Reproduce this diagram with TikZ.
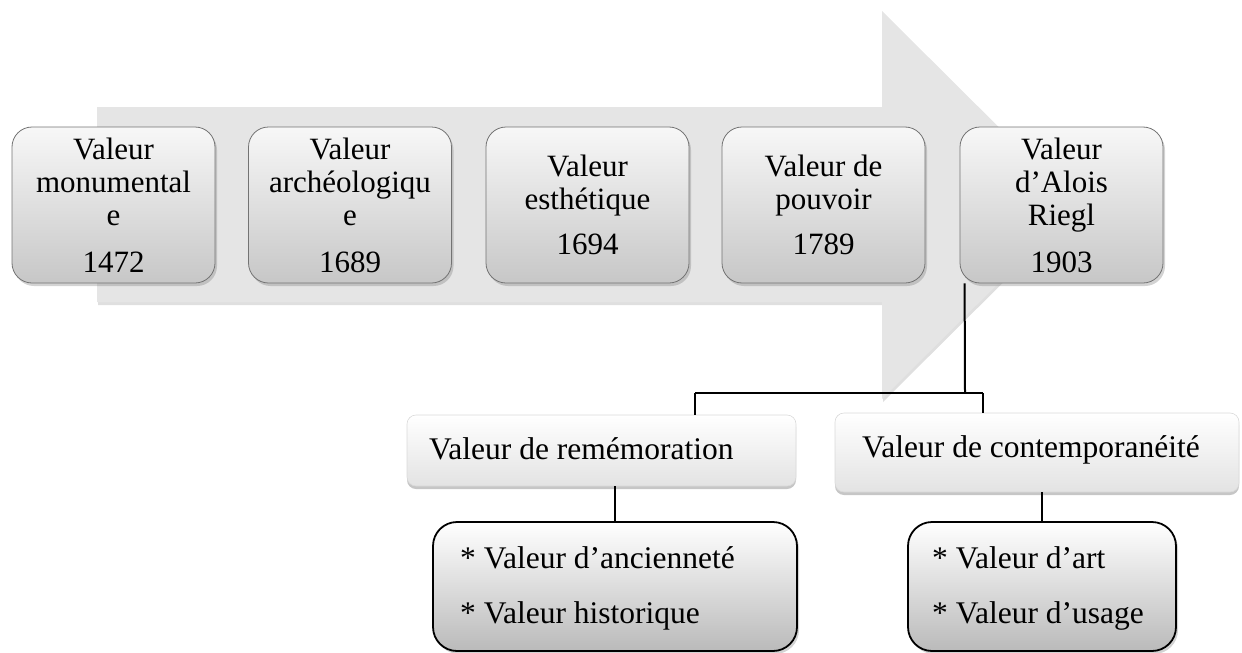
\documentclass[tikz,border=0pt]{standalone}
\usepackage{fontspec}
\setmainfont{Liberation Serif}
\usetikzlibrary{shadows}
\begin{document}
\begin{tikzpicture}[x=1pt,y=-1pt,
  arrowshape/.style={fill=black!10, draw=none, drop shadow={shadow xshift=1pt, shadow yshift=-3pt, opacity=0.25}},
  topbox/.style={draw=black!55, line width=0.8pt, rounded corners=20pt, top color=black!3, bottom color=black!22,
    minimum width=203pt, minimum height=156pt, align=center, inner sep=0pt,
    font=\fontsize{31}{33}\selectfont,
    drop shadow={shadow xshift=2pt, shadow yshift=-3pt, opacity=0.35}},
  midbox/.style={draw=black!15, line width=0.6pt, rounded corners=9pt, top color=white, bottom color=black!11,
    inner sep=0pt, drop shadow={shadow xshift=0pt, shadow yshift=-3pt, opacity=0.45}},
  lowbox/.style={draw=black, line width=1.8pt, rounded corners=24pt, top color=white, bottom color=black!27,
    inner sep=0pt, drop shadow={shadow xshift=2pt, shadow yshift=-3pt, opacity=0.35}},
  txt/.style={font=\fontsize{31.5}{33}\selectfont, inner sep=0pt, anchor=base west},
  conn/.style={draw=black, line width=2pt},
  conn2/.style={draw=black, line width=1.5pt}
]
\useasboundingbox (0,0) rectangle (1242,653);

% big arrow
\path[arrowshape] (97,107) -- (882,107) -- (882,11) -- (1077,205) -- (882,399) -- (882,302) -- (97,302) -- cycle;

% top row
\node[topbox] (b1) at (113.5,205) {Valeur\\monumental\\e\\[14pt]1472};
\node[topbox] (b2) at (350,205) {Valeur\\archéologiqu\\e\\[14pt]1689};
\node[topbox] (b3) at (587.5,205) {Valeur\\esthétique\\[12pt]1694};
\node[topbox] (b4) at (823.5,205) {Valeur de\\pouvoir\\[12pt]1789};
\node[topbox] (b5) at (1061.5,205) {Valeur\\d’Alois\\Riegl\\[14pt]1903};

% middle boxes
\node[midbox, minimum width=389pt, minimum height=71pt] (r1) at (601.5,450.5) {};
\node[midbox, minimum width=404pt, minimum height=79pt] (r2) at (1037,452.5) {};
\node[txt] (r1t) at (429,459) {Valeur de remémoration};
\node[txt] (r2t) at (862,457) {Valeur de contemporanéité};

% lower boxes
\node[lowbox, minimum width=364pt, minimum height=129pt] (l1) at (615,586.5) {};
\node[lowbox, minimum width=268pt, minimum height=129pt] (l2) at (1042,586.5) {};
\node[txt] (l1a) at (460,568) {* Valeur d’ancienneté};
\node[txt] (l1b) at (460,623) {* Valeur historique};
\node[txt] (l2a) at (932,568) {* Valeur d’art};
\node[txt] (l2b) at (932,623) {* Valeur d’usage};

% connectors
\coordinate (jn) at (965,393);
\coordinate (jl) at (695,393);
\coordinate (jr) at (983,393);
\draw[conn] ([xshift=5pt]b5.south west) -- (jn);
\draw[conn] (jl) -- (jr);
\draw[conn] (jl) -- (jl |- r1.north);
\draw[conn] (jr) -- (jr |- r2.north);
\draw[conn2] (l1.north) -- (l1.north |- r1.south);
\draw[conn2] (l2.north) -- (l2.north |- r2.south);
\end{tikzpicture}
\end{document}
